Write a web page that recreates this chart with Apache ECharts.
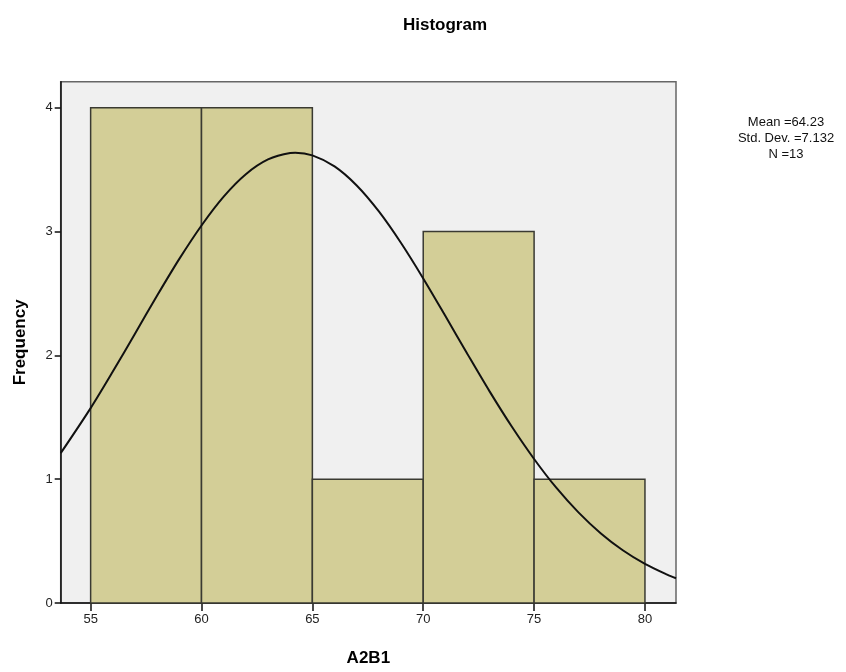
<!DOCTYPE html>
<html>
<head>
<meta charset="utf-8">
<script src="https://cdn.jsdelivr.net/npm/echarts@6/dist/echarts.min.js"></script>
<style>html,body{margin:0;padding:0;background:#fff;}#c{width:846px;height:672px;}</style>
</head>
<body>
<div id="c"></div>
<script>
// Histogram bins (left edge, right edge) and frequencies
const binStarts = [55, 60, 65, 70, 75];
const binEnds = [60, 65, 70, 75, 80];
const frequencies = [4, 4, 1, 3, 1];
// Normal curve points
const curveX = [53.65, 55, 56, 57, 58, 59, 60, 61, 62, 63, 64, 64.23, 65, 66, 67, 68, 69, 70, 71, 72, 73, 74, 75, 76, 77, 78, 79, 80, 81, 81.4];
const curveY = [1.21, 1.574, 1.869, 2.175, 2.483, 2.779, 3.049, 3.282, 3.463, 3.582, 3.634, 3.636, 3.615, 3.526, 3.372, 3.162, 2.907, 2.621, 2.317, 2.009, 1.707, 1.423, 1.163, 0.931, 0.732, 0.564, 0.426, 0.316, 0.229, 0.200];
const xTicks = [55, 60, 65, 70, 75, 80];
const yTicks = [0, 1, 2, 3, 4];
const statsLines = ['Mean =64.23', 'Std. Dev. =7.132', 'N =13'];

const chart = echarts.init(document.getElementById('c'), null, {renderer: 'canvas'});
const font = '"Liberation Sans", Arial, sans-serif';
const barData = binStarts.map((s, i) => [s, binEnds[i], frequencies[i]]);
const lineData = curveX.map((x, i) => [x, curveY[i]]);

chart.setOption({
  animation: false,
  backgroundColor: '#ffffff',
  title: {
    text: 'Histogram', left: 440, top: 12, textAlign: 'center',
    textStyle: {fontFamily: font, fontSize: 17, fontWeight: 'bold', color: '#000'}
  },
  graphic: [{
    type: 'text', x: 786, y: 114,
    style: {text: statsLines.join('\n'), fontFamily: font, fontSize: 13, lineHeight: 16, fill: '#111', textAlign: 'center', align: 'center'}
  }],
  grid: {
    left: 60.7, right: 170, top: 81.7, bottom: 67,
    show: true, backgroundColor: '#f0f0f0', borderColor: '#666', borderWidth: 1.5
  },
  xAxis: {
    type: 'value', min: 53.65, max: 81.4,
    name: 'A2B1', nameLocation: 'middle', nameGap: 47,
    nameTextStyle: {fontFamily: font, fontSize: 17, fontWeight: 'bold', color: '#000'},
    axisLine: {show: true, onZero: false, lineStyle: {color: '#111', width: 1.5}},
    axisTick: {show: true, length: 8, customValues: xTicks, lineStyle: {color: '#111', width: 1.5}},
    axisLabel: {customValues: xTicks, fontFamily: font, fontSize: 13, color: '#222', margin: 10},
    splitLine: {show: false}
  },
  yAxis: {
    type: 'value', min: 0, max: 4.21,
    name: 'Frequency', nameLocation: 'middle', nameGap: 32, nameRotate: 90,
    nameTextStyle: {fontFamily: font, fontSize: 17, fontWeight: 'bold', color: '#000'},
    axisLine: {show: true, lineStyle: {color: '#111', width: 1.5}},
    axisTick: {show: true, length: 6, customValues: yTicks, lineStyle: {color: '#111', width: 1.5}},
    axisLabel: {customValues: yTicks, fontFamily: font, fontSize: 13, color: '#222', margin: 8},
    splitLine: {show: false}
  },
  series: [{
    type: 'custom',
    data: barData,
    encode: {x: [0, 1], y: 2},
    renderItem: function (params, api) {
      const p0 = api.coord([api.value(0), 0]);
      const p1 = api.coord([api.value(1), api.value(2)]);
      return {
        type: 'rect',
        shape: {x: p0[0], y: p1[1], width: p1[0] - p0[0], height: p0[1] - p1[1]},
        style: {fill: '#d3ce97', stroke: '#3a3a32', lineWidth: 1.5}
      };
    }
  }, {
    type: 'line',
    data: lineData,
    smooth: 0.3,
    showSymbol: false,
    lineStyle: {color: '#111', width: 2},
    z: 5
  }]
});
</script>
</body>
</html>
